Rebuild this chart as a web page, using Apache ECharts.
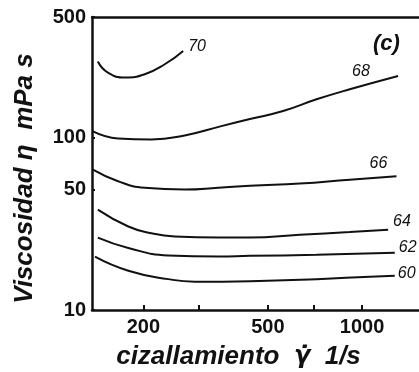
<!DOCTYPE html>
<html>
<head>
<meta charset="utf-8">
<script src="https://cdn.jsdelivr.net/npm/echarts@6/dist/echarts.min.js"></script>
<style>
  html, body { margin: 0; padding: 0; background: #fff; }
  #chart { width: 419px; height: 372px; }
</style>
</head>
<body>
<div id="chart"></div>
<script>
// temperatura de cada curva
const temps = ['70', '68', '66', '64', '62', '60'];

// cizallamiento (1/s) y viscosidad (mPa s)
const rate70 = [143, 154, 175, 202, 234, 268];
const eta70 = [276, 238, 223, 233, 266, 318];
const rate68 = [138, 166, 212, 271, 355, 438, 559, 715, 913, 1303];
const eta68 = [108.5, 98.8, 97.5, 102.9, 116.5, 128, 142.4, 166.6, 190.5, 227.6];
const rate66 = [138, 166, 202, 271, 347, 438, 632, 913, 1288];
const eta66 = [65.2, 55.8, 51.1, 49.9, 51.1, 52.6, 54.1, 57.0, 59.6];
const rate64 = [143, 179, 212, 252, 347, 438, 632, 913, 1211];
const eta64 = [38.2, 30.5, 27.9, 26.7, 26.3, 26.3, 27.3, 28.3, 29.2];
const rate62 = [143, 179, 240, 347, 438, 715, 1272];
const eta62 = [26.3, 22.9, 20.7, 20.4, 20.6, 20.9, 21.5];
const rate60 = [140, 179, 240, 292, 438, 715, 1058, 1272];
const eta60 = [20.4, 16.9, 15.1, 14.6, 14.7, 15.1, 15.6, 15.8];

const xTicks = [200, 300, 500, 700, 1000];
const xLabels = [200, 500, 1000];
const yLabels = [10, 50, 100, 500];

const curves = [
  [rate70, eta70], [rate68, eta68], [rate66, eta66],
  [rate64, eta64], [rate62, eta62], [rate60, eta60]
];
// donde va el numero de cada curva respecto a su final
const labelOffsets = [[5, -4], [-46, -4], [-27, -13], [5, -8], [4, -5], [3, -2]];

const ink = '#111';
const font = 'Liberation Sans, Arial, sans-serif';

const series = curves.map(function (c, i) {
  return {
    name: temps[i],
    type: 'line',
    smooth: true,
    symbol: 'none',
    lineStyle: { color: ink, width: 2 },
    data: c[0].map(function (x, j) { return [x, c[1][j]]; }),
    endLabel: {
      show: true,
      formatter: '{a}',
      distance: 0,
      align: 'left',
      offset: labelOffsets[i],
      color: ink,
      fontFamily: font,
      fontStyle: 'italic',
      fontSize: 16
    }
  };
});

const plain = function (v) { return String(v); };

const option = {
  animation: false,
  backgroundColor: '#fff',
  title: {
    text: '(c)',
    left: 368,
    top: 28,
    textStyle: { fontFamily: font, fontStyle: 'italic', fontWeight: 'bold', fontSize: 22, color: ink }
  },
  grid: { left: 92, top: 17, right: 0, bottom: 62, outerBoundsMode: 'none' },
  xAxis: [
    {
      type: 'log',
      min: 137,
      max: 1520,
      name: 'cizallamiento  {g|\u03b3\u0307}  1/s',
      nameLocation: 'middle',
      nameGap: 34,
      nameTextStyle: {
        fontFamily: font, fontStyle: 'italic', fontWeight: 'bold', fontSize: 26, color: ink,
        padding: [0, 34, 0, 0],
        rich: {
          g: { fontFamily: 'DejaVu Sans', fontStyle: 'italic', fontWeight: 'bold', fontSize: 24, color: ink }
        }
      },
      axisLine: { lineStyle: { color: ink, width: 2.5 } },
      axisTick: { inside: true, length: 5, customValues: xTicks, lineStyle: { color: ink, width: 2 } },
      minorTick: { show: false },
      axisLabel: {
        customValues: xLabels,
        formatter: plain,
        margin: 7,
        fontFamily: font, fontWeight: 'bold', fontSize: 20, color: ink
      },
      splitLine: { show: false }
    },
    {
      type: 'log',
      min: 137,
      max: 1520,
      position: 'top',
      axisLine: { lineStyle: { color: ink, width: 2.5 } },
      axisTick: { show: false },
      axisLabel: { show: false },
      splitLine: { show: false }
    }
  ],
  yAxis: {
    type: 'log',
    min: 10,
    max: 500,
    name: 'Viscosidad \u03b7  mPa s',
    nameLocation: 'middle',
    nameGap: 54,
    nameTextStyle: {
      fontFamily: font, fontStyle: 'italic', fontWeight: 'bold', fontSize: 26, color: ink,
      padding: [0, 30, 0, 0]
    },
    axisLine: { show: true, lineStyle: { color: ink, width: 2.5 } },
    axisTick: { inside: true, length: 3, customValues: yLabels, lineStyle: { color: ink, width: 2 } },
    axisLabel: {
      customValues: yLabels,
      formatter: plain,
      margin: 6,
      fontFamily: font, fontWeight: 'bold', fontSize: 20, color: ink
    },
    splitLine: { show: false }
  },
  series: series
};

const myChart = echarts.init(document.getElementById('chart'));
myChart.setOption(option);
</script>
</body>
</html>
